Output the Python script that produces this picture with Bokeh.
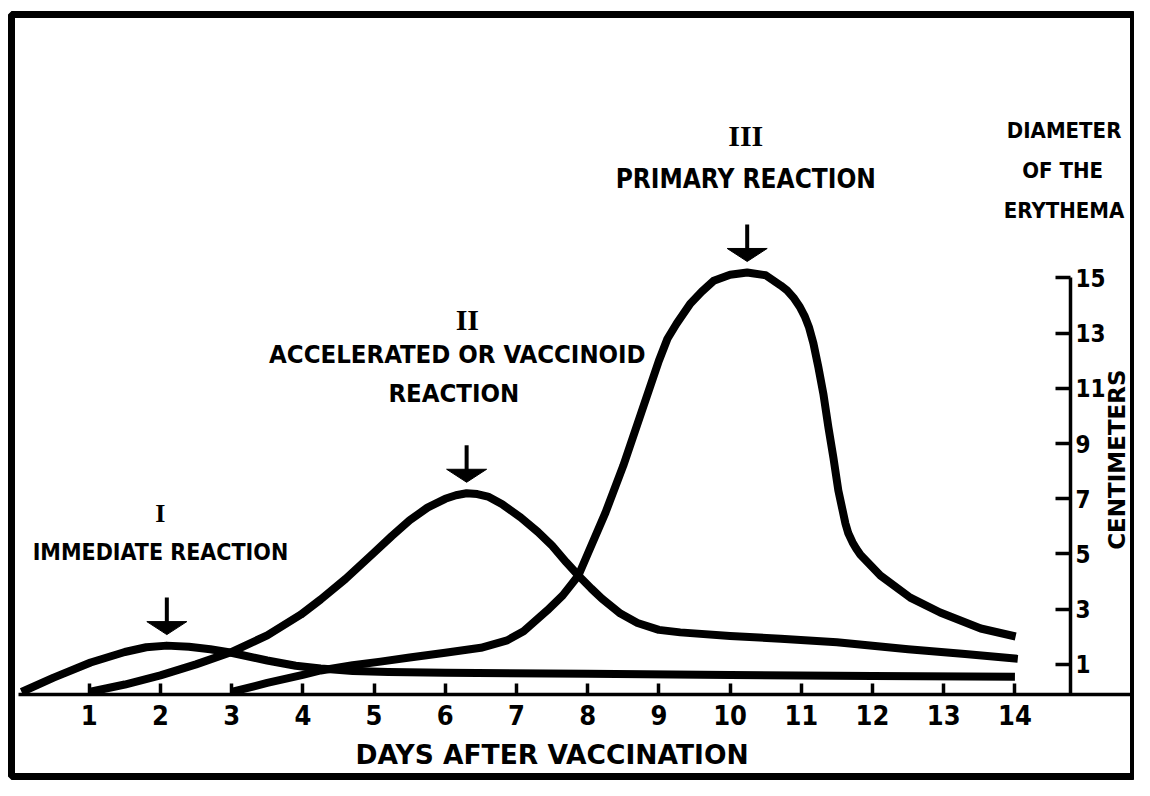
import math
from bokeh.plotting import figure
from bokeh.models import LinearAxis, FixedTicker, Range1d, Label
from bokeh.embed import file_html
from bokeh.resources import INLINE

# ---------------- data ----------------
day_ticks = [1, 2, 3, 4, 5, 6, 7, 8, 9, 10, 11, 12, 13, 14]
cm_ticks = [1, 3, 5, 7, 9, 11, 13, 15]

# I  - immediate reaction
immediate_days = [0.05, 0.5, 1.02, 1.5, 1.8, 2.09, 2.4, 2.7, 2.98, 3.5, 3.9, 4.25, 4.7,
                  5.2, 6.0, 8.0, 10.0, 12.0, 14.0]
immediate_cm = [0.0, 0.52, 1.07, 1.45, 1.62, 1.68, 1.64, 1.55, 1.43, 1.14, 0.95, 0.85, 0.76,
                0.72, 0.7, 0.66, 0.62, 0.58, 0.55]

# II - accelerated or vaccinoid reaction
accelerated_days = [1.0, 1.5, 2.0, 2.5, 2.98, 3.5, 3.97, 4.25, 4.6, 5.0, 5.25, 5.5, 5.75,
                    6.0, 6.15, 6.3, 6.45, 6.6, 6.8, 7.06, 7.3, 7.5, 7.7, 7.87, 8.05, 8.2,
                    8.46, 8.7, 9.0, 9.3, 10.0, 10.71, 11.5, 12.5, 13.3, 14.04]
accelerated_cm = [0.0, 0.27, 0.6, 1.0, 1.43, 2.05, 2.8, 3.35, 4.1, 5.05, 5.65, 6.22, 6.68,
                  7.0, 7.13, 7.2, 7.17, 7.08, 6.8, 6.32, 5.8, 5.3, 4.7, 4.22, 3.75, 3.38,
                  2.84, 2.5, 2.25, 2.16, 2.03, 1.93, 1.8, 1.55, 1.38, 1.2]

# III - primary reaction
primary_days = [3.0, 3.5, 4.0, 4.25, 4.7, 5.09, 5.5, 6.0, 6.5, 6.87, 7.1, 7.43, 7.65, 7.87,
                8.0, 8.25, 8.5, 8.75, 9.0, 9.12, 9.25, 9.44, 9.6, 9.77, 10.0, 10.24,
                10.5, 10.71, 10.8, 10.89, 10.98, 11.05, 11.11, 11.17, 11.24, 11.31, 11.38,
                11.45, 11.52, 11.57, 11.62, 11.66, 11.72, 11.77, 11.83, 12.11, 12.53,
                12.95, 13.52, 14.01]
primary_cm = [0.0, 0.33, 0.62, 0.78, 0.97, 1.1, 1.25, 1.42, 1.6, 1.87, 2.2, 2.95, 3.5, 4.22,
              5.0, 6.5, 8.2, 10.1, 12.0, 12.8, 13.35, 14.07, 14.5, 14.9, 15.12, 15.2,
              15.1, 14.73, 14.55, 14.29, 13.95, 13.6, 13.2, 12.63, 11.76, 10.8, 9.6,
              8.5, 7.3, 6.7, 6.1, 5.75, 5.42, 5.2, 4.97, 4.22, 3.42,
              2.88, 2.3, 2.01]

numerals = ["I", "II", "III"]
reaction_titles = [["IMMEDIATE REACTION"],
                   ["ACCELERATED OR VACCINOID", "REACTION"],
                   ["PRIMARY REACTION"]]
right_title = ["DIAMETER", "OF THE", "ERYTHEMA"]
x_title = "DAYS AFTER VACCINATION"
y_title = "CENTIMETERS"

# ---------------- styling / layout ----------------
NARROW = "DejaVu Sans Condensed, Roboto"
SERIF = "Liberation Serif"
WIDE = "DejaVu Sans"
INK = "#000000"

W, H = 1134, 780
MB_L, MB_R, MB_T, MB_B = 11, 0, 14, 4
X0, X1 = -0.0913, 15.679
Y0, Y1 = -3.062, 24.547
px_x = (X1 - X0) / (W - MB_L - MB_R)
px_y = (Y1 - Y0) / (H - MB_T - MB_B)

p = figure(width=W, height=H, x_range=Range1d(X0, X1), y_range=Range1d(Y0, Y1),
           output_backend="svg", toolbar_location=None, title=None,
           x_axis_type=None, y_axis_type=None,
           min_border_left=MB_L, min_border_right=MB_R,
           min_border_top=MB_T, min_border_bottom=MB_B,
           background_fill_color="white", border_fill_color="white")
p.outline_line_color = INK
p.outline_line_width = 7
p.outline_line_alpha = 1.0

X_AXIS_AT = -0.1
Y_AXIS_AT = 14.78

xaxis = LinearAxis(fixed_location=X_AXIS_AT, ticker=FixedTicker(ticks=day_ticks),
                   bounds=(0.0, X1))
xaxis.axis_line_width = 3.5
xaxis.axis_line_color = INK
xaxis.major_tick_in = 11
xaxis.major_tick_out = 0
xaxis.major_tick_line_width = 3.5
xaxis.major_tick_line_color = INK
xaxis.minor_tick_line_color = None
xaxis.major_label_standoff = 10
xaxis.major_label_text_font = NARROW
xaxis.major_label_text_font_size = "27px"
xaxis.major_label_text_font_style = "bold"
xaxis.major_label_text_color = INK
p.add_layout(xaxis, "below")

yaxis = LinearAxis(fixed_location=Y_AXIS_AT, ticker=FixedTicker(ticks=cm_ticks),
                   bounds=(X_AXIS_AT, 15))
yaxis.axis_line_width = 3.5
yaxis.axis_line_color = INK
yaxis.major_tick_in = 15
yaxis.major_tick_out = 0
yaxis.major_tick_line_width = 3.5
yaxis.major_tick_line_color = INK
yaxis.minor_tick_line_color = None
yaxis.major_label_standoff = 5
yaxis.major_label_text_font = NARROW
yaxis.major_label_text_font_size = "24px"
yaxis.major_label_text_font_style = "bold"
yaxis.major_label_text_color = INK
p.add_layout(yaxis, "right")

curves = [(immediate_days, immediate_cm),
          (accelerated_days, accelerated_cm),
          (primary_days, primary_cm)]

for xs, ys in curves:
    p.line(xs, ys, line_width=8, line_color=INK, line_join="round", line_cap="butt")

# arrows pointing at each curve's peak
heads_x, heads_y = [], []
sx0, sy0, sx1, sy1 = [], [], [], []
for xs, ys in curves:
    i = max(range(len(ys)), key=lambda k: ys[k])
    ax = xs[i]
    tip = ys[i] + 11 * px_y
    hw = 20 * px_x
    hh = 13 * px_y
    heads_x.append([ax - hw, ax + hw, ax])
    heads_y.append([tip + hh, tip + hh, tip])
    sx0.append(ax); sx1.append(ax)
    sy0.append(tip + hh - 2 * px_y); sy1.append(tip + 37 * px_y)
p.patches(heads_x, heads_y, fill_color=INK, line_color=INK, line_width=1)
p.segment(sx0, sy0, sx1, sy1, line_width=4, line_color=INK, line_cap="butt")


def add_label(text, x, y, font, size, style="bold", angle=0.0):
    p.add_layout(Label(x=x, y=y, text=text, text_align="center", text_baseline="middle",
                       text_font=font, text_font_size=size, text_font_style=style,
                       text_color=INK, angle=angle))


# reaction titles
add_label(numerals[0], 2.0, 6.47, SERIF, "26px")
add_label(reaction_titles[0][0], 2.0, 5.09, NARROW, "23px")
add_label(numerals[1], 6.31, 13.5, SERIF, "30px")
add_label(reaction_titles[1][0], 6.17, 12.23, NARROW, "25.5px")
add_label(reaction_titles[1][1], 6.12, 10.85, NARROW, "25.5px")
add_label(numerals[2], 10.22, 20.16, SERIF, "30px")
add_label(reaction_titles[2][0], 10.22, 18.6, NARROW, "26px")

# right-hand title
add_label(right_title[0], 14.69, 20.34, NARROW, "22px")
add_label(right_title[1], 14.67, 18.9, NARROW, "22px")
add_label(right_title[2], 14.69, 17.46, NARROW, "22px")

# axis titles
add_label(x_title, 7.5, -2.25, WIDE, "26.5px")
add_label(y_title, 15.43, 8.42, WIDE, "23px", angle=math.pi / 2)

open("out.html", "w").write(file_html(p, INLINE))
